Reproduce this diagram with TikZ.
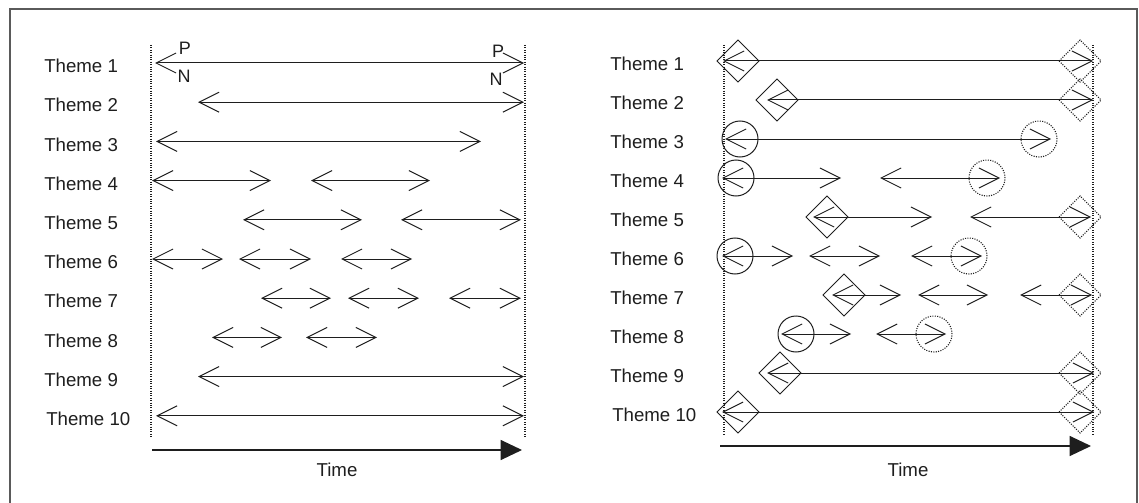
\documentclass[tikz,border=0pt]{standalone}
\usepackage{fontspec}
\setmainfont{Liberation Sans}
\usetikzlibrary{arrows.meta}
\definecolor{ink}{HTML}{1E1E1E}
\definecolor{rim}{HTML}{5A5A5A}
\tikzset{
  span/.style={ink, line width=0.75pt,
    {Straight Barb[length=15pt,width=15pt,line width=0.75pt]}-{Straight Barb[length=15pt,width=15pt,line width=0.75pt]}},
  guide/.style={ink, densely dotted, line width=0.8pt},
  timeaxis/.style={ink, line width=0.9pt, -{Triangle[length=16pt,width=15pt]}},
  lbl/.style={text=ink, font=\fontsize{14}{16}\selectfont, anchor=west, inner sep=0pt},
  pn/.style={text=ink, font=\fontsize{13.5}{15}\selectfont, inner sep=0pt},
  opened/.style={ink, line width=0.75pt},
  closed/.style={ink, densely dotted, line width=0.8pt},
}
% diamond of half-diagonal 21 centred at (#2,#3)
\newcommand\gem[3][]{\draw[#1, shift={(#2,#3)}] (-21,0) -- (0,-21) -- (21,0) -- (0,21) -- cycle;}
% circle of radius 18 centred at (#2,#3)
\newcommand\ring[3][]{\draw[#1] (#2,#3) circle[radius=13.5pt];}
\begin{document}
\begin{tikzpicture}[x=0.75pt, y=-0.75pt]
\useasboundingbox (0,0) rectangle (1139,503);
% outer frame (open at the bottom)
\draw[rim, line width=1.3pt] (10,503) |- (1137,9) -- (1137,503);

% ---------------- left panel ----------------
\draw[guide] (151,45) -- (151,437);
\draw[guide] (525,45) -- (525,437);
\foreach \r in {1,...,9}
  \node[lbl] (lt\r) at (44,{66+39.2*(\r-1)}) {Theme \r};
\node[lbl] (lt10) at (46,{66+39.2*9}) {Theme 10};
\foreach \r/\a/\b in {1/155/524, 2/198/524, 3/156/481,
    4/152/271, 4/311/430, 5/243/362, 5/401/521,
    6/152/223, 6/239/311, 6/341/412,
    7/261/331, 7/348/419, 7/449/521,
    8/212/282, 8/306/377, 9/198/524, 10/156/524}
  \draw[span] (\a,{63+39.2*(\r-1)}) -- (\b,{63+39.2*(\r-1)});
\node[pn] (p1) at (185,48) {P};
\node[pn] (n1) at (184,76) {N};
\node[pn] (p2) at (498,51) {P};
\node[pn] (n2) at (496,79) {N};
\coordinate (la) at (152,450);
\coordinate (lb) at (522,450);
\draw[timeaxis] (la) -- (lb);
\node[text=ink, font=\fontsize{14}{16}\selectfont] (ltime) at (337,470) {Time};

% ---------------- right panel ----------------
\draw[guide] (724,45) -- (724,436);
\draw[guide] (1093,45) -- (1093,436);
\foreach \r in {1,...,9}
  \node[lbl] (rt\r) at (610,{64+39*(\r-1)}) {Theme \r};
\node[lbl] (rt10) at (612,{64+39*9}) {Theme 10};
\foreach \r/\a/\b in {1/723/1093, 2/767/1093, 3/725/1051,
    4/722/841, 4/880/1000, 5/813/932, 5/970/1091,
    6/722/793, 6/809/880, 6/911/982,
    7/832/901, 7/918/988, 7/1020/1092,
    8/781/851, 8/876/946, 9/767/1094, 10/722/1094}
  \draw[span] (\a,{61+39*(\r-1)}) -- (\b,{61+39*(\r-1)});
% openings (solid) and closings (dotted)
\foreach \r/\c [evaluate=\r as \y using 61+39*(\r-1)] in {1/738, 2/777, 5/827, 7/844, 9/780, 10/738}
  {\gem[opened]{\c}{\y}}
\foreach \r [evaluate=\r as \y using 61+39*(\r-1)] in {1,2,5,7,9,10}
  {\gem[closed]{1080}{\y}}
\foreach \r/\c [evaluate=\r as \y using 61+39*(\r-1)] in {3/740, 4/736, 6/735, 8/796}
  {\ring[opened]{\c}{\y}}
\foreach \r/\c [evaluate=\r as \y using 61+39*(\r-1)] in {3/1039, 4/987, 6/969, 8/934}
  {\ring[closed]{\c}{\y}}
\coordinate (ra) at (720,446);
\coordinate (rb) at (1091,446);
\draw[timeaxis] (ra) -- (rb);
\node[text=ink, font=\fontsize{14}{16}\selectfont] (rtime) at (908,470) {Time};
\end{tikzpicture}
\end{document}
